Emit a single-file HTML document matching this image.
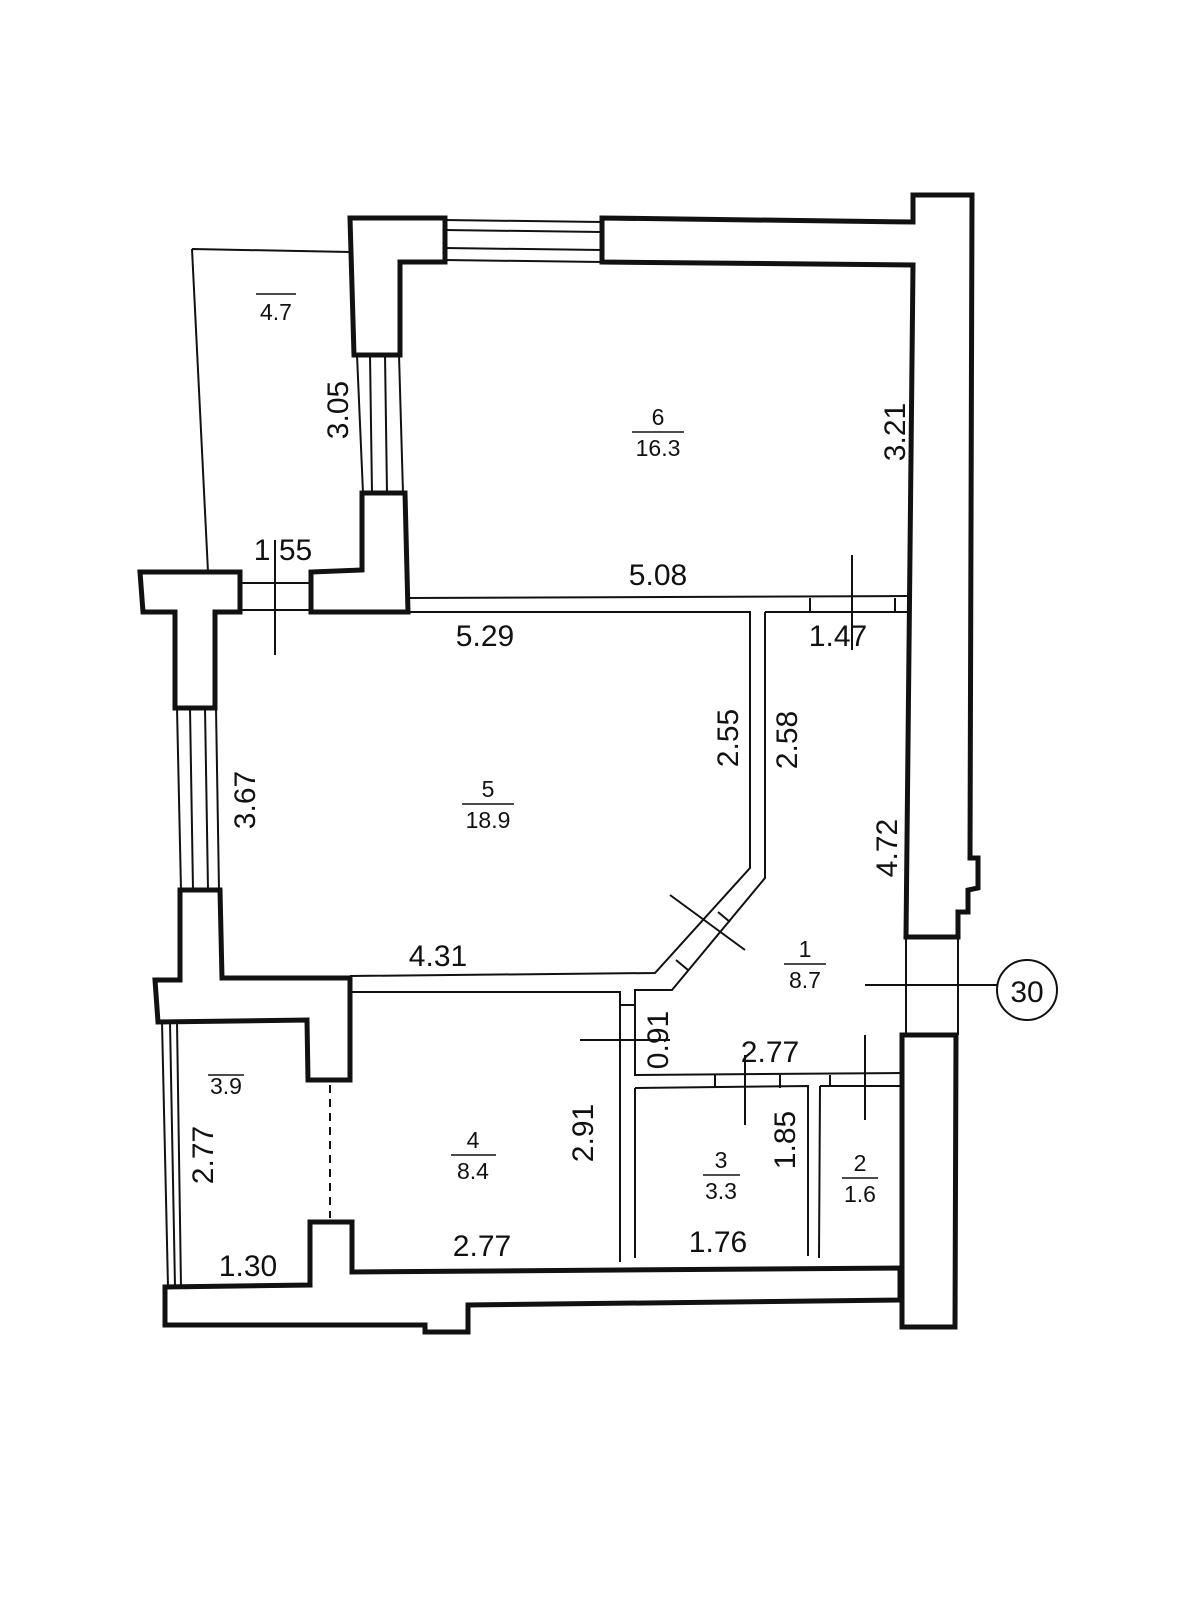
<!DOCTYPE html>
<html><head><meta charset="utf-8"><style>
html,body{margin:0;padding:0;background:#fff;}
svg{display:block;}
text{font-family:"Liberation Sans",sans-serif;fill:#111;}
.d{font-size:30px;}
.r{font-size:23px;}
</style></head><body>
<svg width="1200" height="1600" viewBox="0 0 1200 1600" xmlns="http://www.w3.org/2000/svg">
<g fill="none" stroke="#111" stroke-linejoin="miter">
<g stroke-width="5">
<path d="M602,218 L913,222 L913,195 L972,195 L970,858 L978,858 L978,888 L968,890 L968,912 L958,912 L958,937 L906,937 L913,265 L602,262 Z"/>
<path d="M350,218 L445,218 L445,262 L400,262 L400,355 L354,355 Z"/>
<path d="M362,493 L405,493 L408,612 L311,612 L311,572 L362,570 Z"/>
<path d="M140,572 L240,572 L240,612 L215,612 L215,708 L175,708 L175,612 L143,612 Z"/>
<path d="M180,890 L220,890 L222,978 L350,978 L350,1080 L308,1080 L307,1020 L158,1022 L155,980 L180,980 Z"/>
<path d="M165,1325 L165,1287 L310,1285 L310,1222 L352,1222 L352,1272 L900,1268 L900,1300 L468,1305 L468,1332 L425,1332 L425,1325 Z"/>
<path d="M902,1035 L956,1035 L955,1327 L902,1327 Z"/>
</g>
<g stroke-width="2">
<path d="M445,220 L602,222 M445,230 L602,232 M445,248 L602,250 M445,260 L602,262"/>
<path d="M357,355 L363,493 M370,355 L372,493 M385,355 L387,493 M399,355 L403,493"/>
<path d="M177,708 L181,890 M190,708 L193,890 M205,708 L208,890 M216,708 L219,890"/>
<path d="M162,1022 L168,1287 M170,1022 L175,1287 M177,1022 L181,1287"/>
<path d="M192,249 L350,252 M192,249 L208,572"/>
<path d="M240,583 L311,583 M240,610 L311,610"/>
<path d="M408,598 L907,596"/>
<path d="M408,612 L750,612 L750,868 L655,973 L350,976"/>
<path d="M765,612 L907,612"/>
<path d="M810,598 L810,612 M895,598 L895,612"/>
<path d="M765,612 L765,878 L672,990 L635,990 L635,1075 L902,1073"/>
<path d="M350,992 L620,992 L620,1262"/>
<path d="M620,1005 L635,1005"/>
<path d="M718,912 L730,922 M676,960 L688,970"/>
<path d="M635,1088 L808,1086 L808,1256 M635,1088 L635,1258"/>
<path d="M820,1086 L900,1086 M820,1086 L819,1258"/>
<path d="M715,1075 L715,1088 M780,1075 L780,1088 M830,1075 L830,1086"/>
<path d="M906,937 L906,1035 M958,937 L958,1035"/>
<path d="M275,540 L275,655"/>
<path d="M852,555 L852,650"/>
<path d="M670,895 L745,950"/>
<path d="M580,1040 L670,1040"/>
<path d="M745,1055 L745,1125"/>
<path d="M865,1035 L865,1120"/>
<path d="M865,985 L997,985"/>
<path d="M330,1085 L330,1218" stroke-dasharray="8,6"/>
<circle cx="1027" cy="990" r="30"/>
</g>
<g stroke-width="1.5">
<path d="M256,294 L296,294 M632,432 L684,432 M462,804 L514,804 M784,964 L826,964 M208,1075 L244,1075 M451,1155 L496,1155 M703,1175 L740,1175 M842,1178 L878,1178"/>
</g>
</g>
<g>
<text class="d" x="1027" y="1002" text-anchor="middle">30</text>
<text class="r" x="276" y="320" text-anchor="middle">4.7</text>
<text class="r" x="658" y="425" text-anchor="middle">6</text>
<text class="r" x="658" y="456" text-anchor="middle">16.3</text>
<text class="r" x="488" y="797" text-anchor="middle">5</text>
<text class="r" x="488" y="828" text-anchor="middle">18.9</text>
<text class="r" x="805" y="957" text-anchor="middle">1</text>
<text class="r" x="805" y="988" text-anchor="middle">8.7</text>
<text class="r" x="226" y="1094" text-anchor="middle">3.9</text>
<text class="r" x="473" y="1148" text-anchor="middle">4</text>
<text class="r" x="473" y="1179" text-anchor="middle">8.4</text>
<text class="r" x="721" y="1168" text-anchor="middle">3</text>
<text class="r" x="721" y="1199" text-anchor="middle">3.3</text>
<text class="r" x="860" y="1171" text-anchor="middle">2</text>
<text class="r" x="860" y="1202" text-anchor="middle">1.6</text>

<text class="d" x="283" y="560" text-anchor="middle">1 55</text>
<text class="d" x="658" y="585" text-anchor="middle">5.08</text>
<text class="d" x="485" y="646" text-anchor="middle">5.29</text>
<text class="d" x="838" y="646" text-anchor="middle">1.47</text>
<text class="d" x="438" y="966" text-anchor="middle">4.31</text>
<text class="d" x="770" y="1062" text-anchor="middle">2.77</text>
<text class="d" x="248" y="1276" text-anchor="middle">1.30</text>
<text class="d" x="482" y="1256" text-anchor="middle">2.77</text>
<text class="d" x="718" y="1252" text-anchor="middle">1.76</text>

<text class="d" transform="translate(348,410) rotate(-90)" text-anchor="middle">3.05</text>
<text class="d" transform="translate(905,432) rotate(-90)" text-anchor="middle">3.21</text>
<text class="d" transform="translate(738,738) rotate(-90)" text-anchor="middle">2.55</text>
<text class="d" transform="translate(797,740) rotate(-90)" text-anchor="middle">2.58</text>
<text class="d" transform="translate(255,800) rotate(-90)" text-anchor="middle">3.67</text>
<text class="d" transform="translate(897,848) rotate(-90)" text-anchor="middle">4.72</text>
<text class="d" transform="translate(668,1040) rotate(-90)" text-anchor="middle">0.91</text>
<text class="d" transform="translate(593,1133) rotate(-90)" text-anchor="middle">2.91</text>
<text class="d" transform="translate(795,1140) rotate(-90)" text-anchor="middle">1.85</text>
<text class="d" transform="translate(213,1155) rotate(-90)" text-anchor="middle">2.77</text>
</g>
</svg>
</body></html>
